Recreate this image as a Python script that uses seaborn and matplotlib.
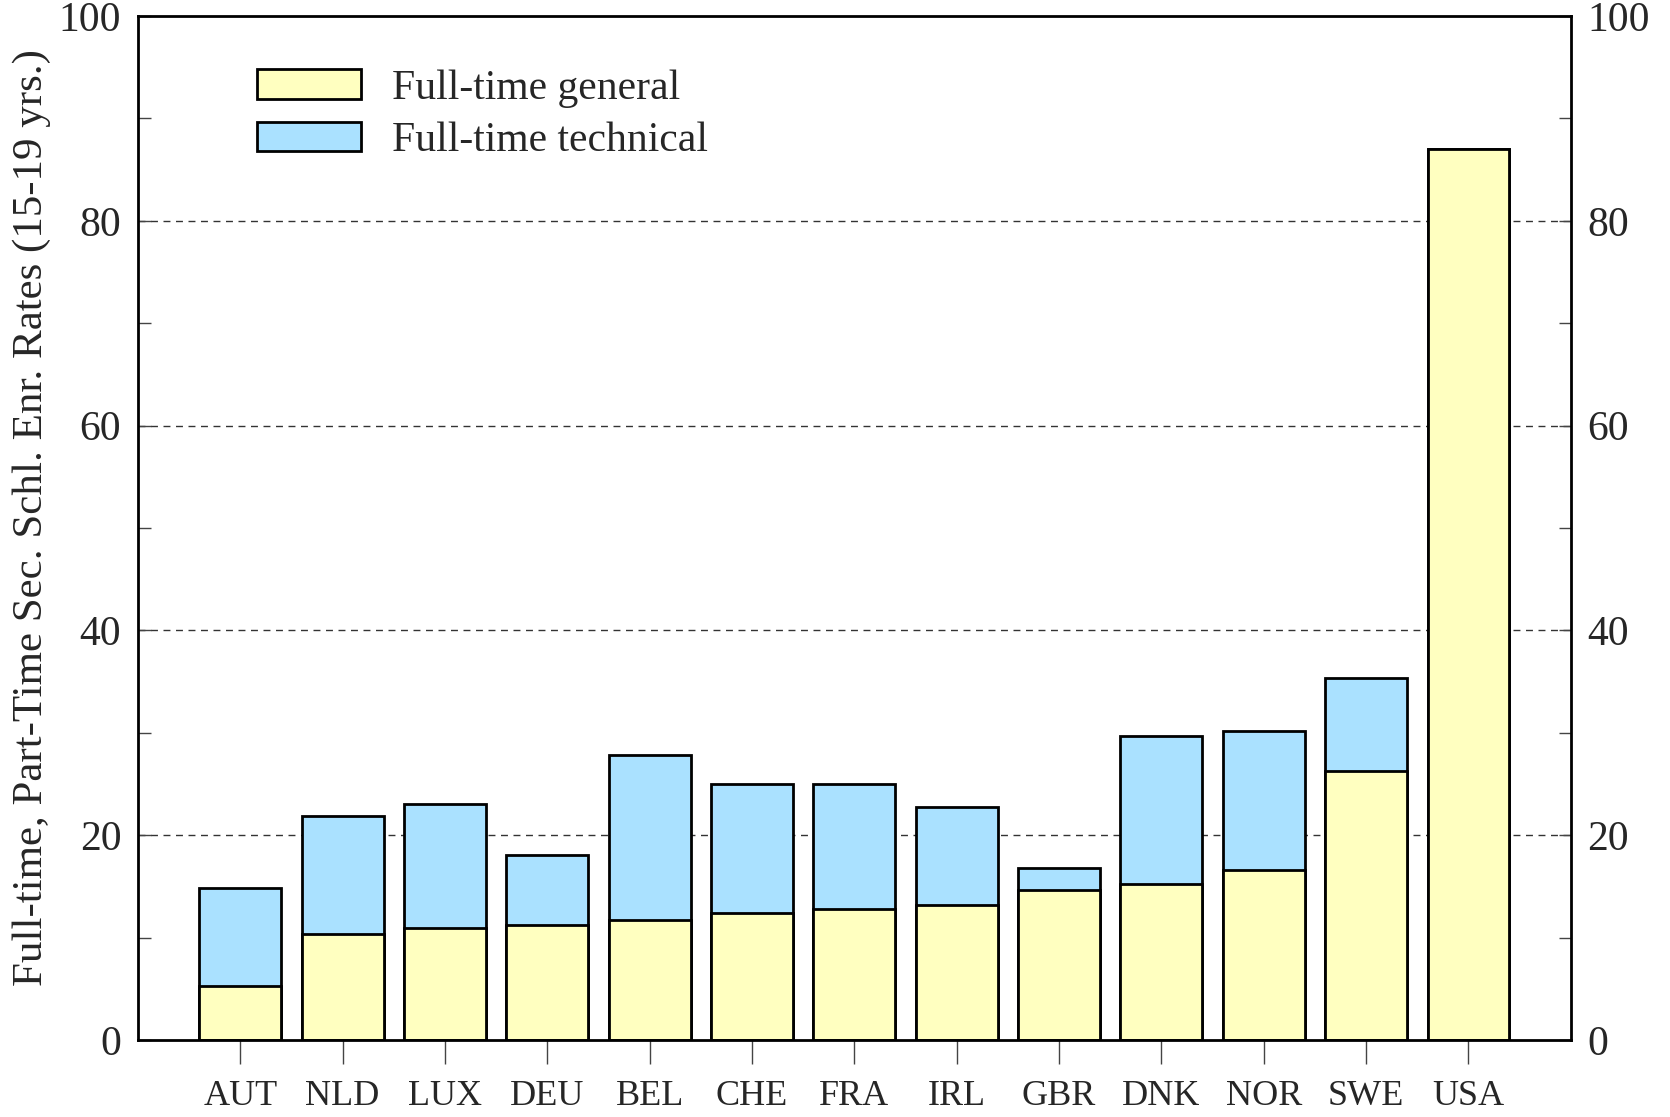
import matplotlib
matplotlib.use("Agg")
import matplotlib.pyplot as plt
import seaborn as sns
import pandas as pd
import numpy as np
from matplotlib.patches import Patch
from matplotlib.ticker import MultipleLocator

countries = ['AUT', 'NLD', 'LUX', 'DEU', 'BEL', 'CHE', 'FRA', 'IRL', 'GBR', 'DNK', 'NOR', 'SWE', 'USA']
general = [5.3, 10.3, 10.9, 11.2, 11.7, 12.4, 12.8, 13.2, 14.6, 15.2, 16.6, 26.3, 87.0]
technical = [9.5, 11.6, 12.1, 6.9, 16.1, 12.6, 12.2, 9.5, 2.2, 14.5, 13.6, 9.0, 0.0]
series_labels = ['Full-time general', 'Full-time technical']
y_ticks = [0, 20, 40, 60, 80, 100]
ylabel = 'Full-time, Part-Time Sec. Schl. Enr. Rates (15-19 yrs.)'

yellow = '#FFFFC0'
blue = '#AAE1FF'

df = pd.DataFrame({'country': countries, 'general': general, 'technical': technical})
df['total'] = df['general'] + df['technical']

sns.set_theme(style='white')
plt.rcParams['font.family'] = ['Liberation Serif', 'DejaVu Serif']
plt.rcParams['font.size'] = 28

fig = plt.figure(figsize=(16.7, 11.17), dpi=100)
ax = fig.add_axes([0.0826, 0.069, 0.858, 0.9167])

# gridlines at 20..80
for v in y_ticks[1:-1]:
    ax.axhline(v, color='#333333', linestyle=(0, (5, 4)), linewidth=1.0, zorder=0)

sns.barplot(data=df, x='country', y='total', color=blue, saturation=1, errorbar=None,
            edgecolor='black', linewidth=2, width=0.8, ax=ax, zorder=2)
sns.barplot(data=df, x='country', y='general', color=yellow, saturation=1, errorbar=None,
            edgecolor='black', linewidth=2, width=0.8, ax=ax, zorder=3)

ax.set_xlim(-1, len(countries))
ax.set_ylim(0, 100)
ax.set_yticks(y_ticks)
ax.yaxis.set_minor_locator(MultipleLocator(10))
ax.set_xlabel('')
ax.set_ylabel(ylabel, fontsize=31, va='center')
ax.yaxis.set_label_coords(-0.074, 0.51)

for s in ax.spines.values():
    s.set_color('black')
    s.set_linewidth(2)
    s.set_zorder(5)

ax.tick_params(axis='y', which='major', direction='in', length=9, width=1, color='#444444',
               left=True, right=True, labelleft=True, labelright=True, labelsize=30, pad=12)
ax.tick_params(axis='y', which='minor', direction='in', length=9, width=1, color='#444444',
               left=True, right=True)
ax.tick_params(axis='x', which='major', direction='out', length=17, width=1, color='#444444',
               bottom=True, labelsize=26, pad=12)

handles = [Patch(facecolor=yellow, edgecolor='black', linewidth=2),
           Patch(facecolor=blue, edgecolor='black', linewidth=2)]
ax.legend(handles, series_labels, loc='upper left', bbox_to_anchor=(0.083, 0.948),
          frameon=False, fontsize=30, handlelength=2.5, handleheight=0.72,
          labelspacing=0.33, handletextpad=0.75, borderaxespad=0, borderpad=0)

fig.savefig('out.png', dpi=100)
